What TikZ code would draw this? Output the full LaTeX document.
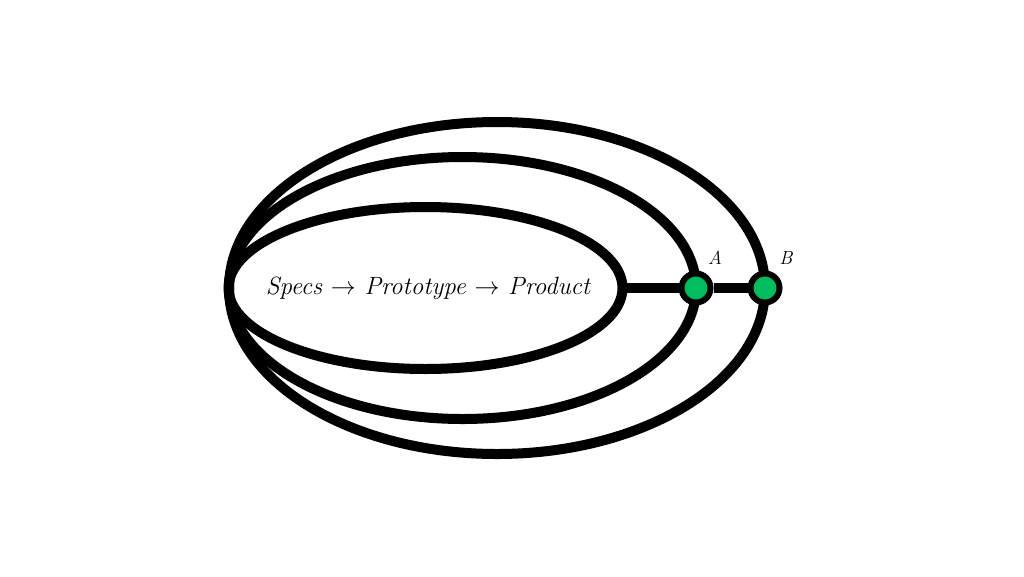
\documentclass[tikz,border=0pt]{standalone}
\usepackage{fontspec}
\definecolor{dotgreen}{RGB}{0,190,95}
\tikzset{
  ring/.style={draw=black, line width=10pt},
  dot/.style={circle, draw=black, fill=dotgreen, line width=6pt, minimum size=29pt, inner sep=0pt},
  link/.style={draw=black, line width=10pt},
  lbl/.style={font=\itshape\fontsize{19}{22}\selectfont, inner sep=0pt},
  title/.style={font=\itshape\fontsize{25}{30}\selectfont, inner sep=0pt}
}
\begin{document}
\begin{tikzpicture}[x=1pt,y=-1pt]
\useasboundingbox (0,0) rectangle (1024,576);
\coordinate (oc) at (497,288);
\coordinate (mc) at (462.5,288);
\coordinate (ic) at (425.5,288);
\coordinate (ie) at (622.5,288);
\draw[ring] (oc) ellipse [x radius=268pt, y radius=166pt];
\draw[ring] (mc) ellipse [x radius=233.5pt, y radius=131pt];
\draw[ring] (ic) ellipse [x radius=197pt, y radius=81pt];
\node[title] (t) at (428,288) {Specs $\rightarrow$ Prototype $\rightarrow$ Product};
\node[dot] (A) at (696,288) {};
\node[dot] (B) at (765,288) {};
\draw[link] (ie) -- (A) -- (B);
\node[lbl] (la) at (715,258) {A};
\node[lbl] (lb) at (786,258) {B};
\end{tikzpicture}
\end{document}
